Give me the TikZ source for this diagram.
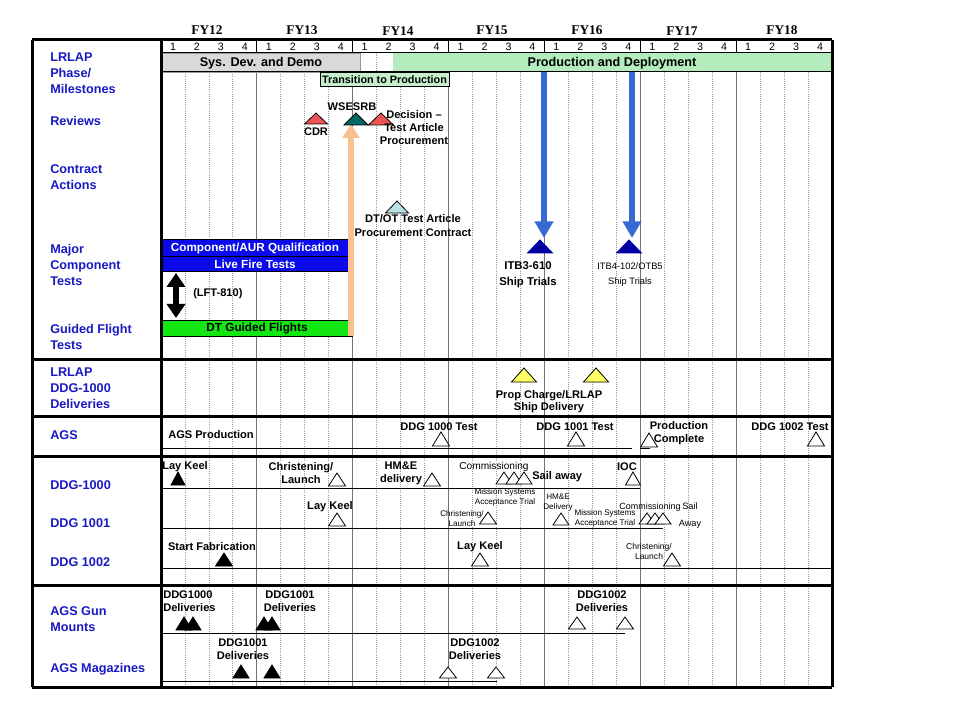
\documentclass[tikz,border=0pt]{standalone}
\usepackage{fontspec}
\setmainfont{Liberation Sans}
\newfontfamily\serifbf{Liberation Serif}
\usetikzlibrary{arrows.meta}
\definecolor{labelblue}{RGB}{25,25,195}
\definecolor{barblue}{RGB}{10,10,235}
\definecolor{navytri}{RGB}{0,0,160}
\definecolor{arrowblue}{RGB}{55,105,210}
\definecolor{peach}{RGB}{250,192,144}
\definecolor{dtgreen}{RGB}{20,230,20}
\definecolor{prodgreen}{RGB}{180,236,190}
\definecolor{transgreen}{RGB}{198,240,205}
\definecolor{sysgray}{RGB}{217,217,217}
\definecolor{revred}{RGB}{240,85,85}
\definecolor{tealtri}{RGB}{0,105,100}
\definecolor{dtotblue}{RGB}{185,225,228}
\definecolor{triyellow}{RGB}{255,255,100}
\newcommand\Tri[5][]{\draw[tri,#1] ({#2-#4/2},#3) -- ({#2+#4/2},#3) -- (#2,{#3-#5}) -- cycle;}
\begin{document}
\begin{tikzpicture}[x=0.75pt,y=-0.75pt,
  lab/.style={anchor=west,align=left,inner sep=0,text=labelblue,font=\fontsize{9.5}{12}\selectfont\bfseries},
  ann/.style={inner sep=0,align=center,font=\fontsize{8.3}{10}\selectfont\bfseries},
  reg/.style={inner sep=0,align=center,font=\fontsize{7.6}{9}\selectfont},
  tiny/.style={inner sep=0,align=center,font=\fontsize{6.1}{7}\selectfont},
  bartext/.style={inner sep=0,font=\fontsize{8.8}{10}\selectfont\bfseries},
  fy/.style={inner sep=0,font=\serifbf\fontsize{10}{12}\selectfont\bfseries},
  qnum/.style={inner sep=0,font=\fontsize{8}{9}\selectfont},
  tri/.style={draw=black,fill=white,line width=0.6pt},
  thinl/.style={line width=0.75pt},
  bord/.style={line width=2.25pt},
  qline/.style={draw=black!40,densely dotted,line width=0.6pt},
  yline/.style={draw=black!55,line width=0.8pt},
  bigarrow/.style={arrowblue,line width=4.5pt,-{Triangle[width=13.5pt,length=12.5pt]}},
  peacharrow/.style={peach,line width=4.5pt,-{Triangle[width=12.5pt,length=10.5pt]}}
]
\useasboundingbox (0,0) rectangle (960,720);
\fill[white] (0,0) rectangle (960,720);

% grid
\foreach \i in {1,...,27}{\draw[qline] ({161+23.964*\i},53) -- ({161+23.964*\i},687);}
\foreach \i in {1,...,6}{\draw[yline] ({161+95.857*\i},53) -- ({161+95.857*\i},687);
  \draw[thinl] ({161+95.857*\i},40) -- ({161+95.857*\i},53);}

% header
\node[fy] (fy12) at (207,30) {FY12};
\node[fy] (fy13) at (302,30) {FY13};
\node[fy] (fy14) at (398,31) {FY14};
\node[fy] (fy15) at (492,30) {FY15};
\node[fy] (fy16) at (587,30) {FY16};
\node[fy] (fy17) at (682,31) {FY17};
\node[fy] (fy18) at (782,30) {FY18};
\foreach \y in {0,...,6}{\foreach \q in {1,...,4}{
  \node[qnum] (q\y\q) at ({161+23.964*(4*\y+\q-0.5)},47) {\q};}}

% phase row
\draw[fill=sysgray,draw=black!40] (161,53) rectangle (360,72);
\fill[prodgreen] (393,53) rectangle (832,72);
\node[inner sep=0,font=\fontsize{9.5}{11}\selectfont\bfseries] (sdd) at (261,63) {Sys. Dev. and Demo};
\node[inner sep=0,font=\fontsize{9.5}{11}\selectfont\bfseries] (pdd) at (612,63) {Production and Deployment};
\draw[thinl,fill=transgreen] (320,73) rectangle (449,87);
\node[ann,font=\fontsize{8.1}{10}\selectfont\bfseries] (ttp) at (384.5,80) {Transition to Production};

% bars
\draw[thinl,fill=barblue] (161,240) rectangle (349,257);
\draw[thinl,fill=barblue] (161,257) rectangle (349,272);
\node[bartext,text=white] (aur) at (255,248.5) {Component/AUR Qualification};
\node[bartext,text=white] (lft) at (255,264.5) {Live Fire Tests};
\draw[thinl,fill=dtgreen] (161,320) rectangle (349,336);
\node[bartext] (dtg) at (257,328) {DT Guided Flights};

% arrows
\coordinate (pa0) at (351,336);
\coordinate (pa1) at (351,124);
\draw[peacharrow] (pa0) -- (pa1);
\coordinate (ba0) at (544,72);
\coordinate (ba1) at (544,238);
\coordinate (bb0) at (632,72);
\coordinate (bb1) at (632,238);
\draw[bigarrow] (ba0) -- (ba1);
\draw[bigarrow] (bb0) -- (bb1);
\coordinate (lf0) at (176,273);
\coordinate (lf1) at (176,318);
\draw[black,line width=4pt,{Triangle[width=13.5pt,length=10.5pt]}-{Triangle[width=13.5pt,length=10.5pt]}] (lf0) -- (lf1);

% thin lines
\draw[thinl] (161,53) -- (832,53);
\draw[thinl] (161,72) -- (832,72);
\draw[thinl] (161,336) -- (353,336);
\draw[thinl] (161,448) -- (632,448);
\draw[thinl] (640,448) -- (650,448);
\draw[thinl] (161,488) -- (640,488);
\draw[thinl] (161,528) -- (663,528);
\draw[thinl] (161,568) -- (832,568);
\draw[thinl] (161,633) -- (625,633);
\draw[thinl] (161,681) -- (497,681);

% borders
\draw[bord] (32,40) -- (832,40);
\draw[bord] (32,359) -- (832,359);
\draw[bord] (32,416) -- (832,416);
\draw[bord] (32,456) -- (832,456);
\draw[bord] (32,585) -- (832,585);
\draw[bord] (32,687) -- (832,687);
\draw[bord] (32,40) -- (32,687);
\draw[bord] (161,40) -- (161,687);
\draw[bord] (832,40) -- (832,687);

% left labels
\node[lab] (l1) at (50,73) {LRLAP\\Phase/\\Milestones};
\node[lab] (l2) at (50,121) {Reviews};
\node[lab] (l3) at (50,177) {Contract\\Actions};
\node[lab] (l4) at (50,265) {Major\\Component\\Tests};
\node[lab] (l5) at (50,337) {Guided Flight\\Tests};
\node[lab] (l6) at (50,388) {LRLAP\\DDG-1000\\Deliveries};
\node[lab] (l7) at (50,435) {AGS};
\node[lab] (l8) at (50,485) {DDG-1000};
\node[lab] (l9) at (50,523) {DDG 1001};
\node[lab] (l10) at (50,562) {DDG 1002};
\node[lab] (l11) at (50,619.5) {AGS Gun\\Mounts};
\node[lab] (l12) at (50,669) {AGS Magazines};

% reviews / contract
\Tri[fill=revred]{316}{124}{23}{11}
\Tri[fill=tealtri]{356}{125}{24}{12}
\Tri[fill=revred]{381}{125}{25}{12}
\node[ann] (cdr) at (316,132) {CDR};
\node[ann] (wse) at (352,107) {WSESRB};
\node[ann] (dec) at (414,127.5) {Decision --\\Test Article\\Procurement};
\Tri[fill=dtotblue]{397}{213}{23}{12}
\node[ann] (dtot) at (413,225.5) {DT/OT Test Article\\Procurement Contract};
\node[ann,anchor=west] (lftl) at (193,294) {(LFT-810)};

% ship trials
\Tri[fill=navytri,draw=navytri]{540}{253}{25}{13}
\Tri[fill=navytri,draw=navytri]{629}{253}{25}{13}
\node[ann,font=\fontsize{8.5}{12}\selectfont\bfseries] (itb3) at (528,275) {ITB3-610\\Ship Trials};
\node[reg,font=\fontsize{7}{11.3}\selectfont] (itb4) at (630,274.5) {ITB4-102/OTB5\\Ship Trials};

% LRLAP deliveries
\Tri[fill=triyellow]{524}{382}{25}{14}
\Tri[fill=triyellow]{596}{382}{25}{14}
\node[ann,font=\fontsize{8.3}{8.6}\selectfont\bfseries] (prop) at (549,401.5) {Prop Charge/LRLAP\\Ship Delivery};

% AGS row
\node[ann,anchor=west] (agsp) at (168,435) {AGS Production};
\node[ann] (t1000) at (439,427) {DDG 1000 Test};
\Tri{441}{446}{17}{14}
\node[ann] (t1001) at (575,427) {DDG 1001 Test};
\Tri{576}{446}{17}{14}
\node[ann,font=\fontsize{8.3}{9.75}\selectfont\bfseries] (pcomp) at (679,433.5) {Production\\Complete};
\Tri{649}{447}{17}{14}
\node[ann] (t1002) at (790,427) {DDG 1002 Test};
\Tri{816}{446}{17}{14}

% DDG-1000 row
\node[ann,anchor=west] (lk1) at (162,467) {Lay Keel};
\Tri[fill=black]{178}{485}{14}{13}
\node[ann,font=\fontsize{8.3}{9.75}\selectfont\bfseries] (chr1) at (301,473.5) {Christening/\\Launch};
\Tri{337}{486}{17}{13}
\node[ann,font=\fontsize{8.3}{9.75}\selectfont\bfseries] (hme1) at (401,473.5) {HM\&E\\delivery};
\Tri{432}{486}{17}{13}
\node[reg] (com1) at (494,467) {Commissioning};
\Tri{504}{484}{16}{12}
\Tri{514}{484}{16}{12}
\Tri{524}{484}{16}{12}
\node[ann,anchor=west] (sail1) at (532,477) {Sail away};
\node[ann] (ioc) at (627,467) {IOC};
\Tri{633}{485}{15}{13}

% DDG 1001 row
\node[ann] (lk2) at (330,507) {Lay Keel};
\Tri{337}{526}{17}{13}
\node[tiny] (chr2) at (462,518.5) {Christening/\\Launch};
\Tri{488}{524}{17}{12}
\node[tiny] (mst1) at (505,497.5) {Mission Systems\\Acceptance Trial};
\node[tiny] (hme2) at (558,502.5) {HM\&E\\Delivery};
\Tri{561}{525}{16}{12}
\node[tiny] (mst2) at (605,518.5) {Mission Systems\\Acceptance Trial};
\node[reg,font=\fontsize{6.7}{8}\selectfont] (com2) at (650,507.5) {Commissioning};
\Tri{647}{524}{16}{11}
\Tri{655}{524}{16}{11}
\Tri{663}{524}{16}{11}
\node[reg,font=\fontsize{6.9}{12.5}\selectfont] (sail2) at (690,515.5) {Sail\\Away};

% DDG 1002 row
\node[ann] (sf) at (212,547) {Start Fabrication};
\Tri[fill=black]{224}{566}{17}{13}
\node[ann] (lk3) at (480,547) {Lay Keel};
\Tri{480}{566}{17}{13}
\node[tiny,font=\fontsize{6.4}{7.5}\selectfont] (chr3) at (649,551) {Christening/\\Launch};
\Tri{672}{566}{17}{13}

% AGS gun mounts
\node[ann,align=left,anchor=west,font=\fontsize{8.3}{9.75}\selectfont\bfseries] (gm1) at (163,601.5) {DDG1000\\Deliveries};
\Tri[fill=black]{184}{630}{16}{13}
\Tri[fill=black]{193}{630}{16}{13}
\node[ann,font=\fontsize{8.3}{9.75}\selectfont\bfseries] (gm2) at (290,601.5) {DDG1001\\Deliveries};
\Tri[fill=black]{264}{630}{16}{13}
\Tri[fill=black]{272}{630}{16}{13}
\node[ann,font=\fontsize{8.3}{9.75}\selectfont\bfseries] (gm3) at (602,601.5) {DDG1002\\Deliveries};
\Tri{577}{629}{17}{12}
\Tri{625}{629}{17}{12}

% AGS magazines
\node[ann,font=\fontsize{8.3}{9.75}\selectfont\bfseries] (mg1) at (243,649.5) {DDG1001\\Deliveries};
\Tri[fill=black]{241}{678}{16}{13}
\Tri[fill=black]{272}{678}{16}{13}
\node[ann,font=\fontsize{8.3}{9.75}\selectfont\bfseries] (mg2) at (475,649.5) {DDG1002\\Deliveries};
\Tri{448}{678}{17}{11}
\Tri{496}{678}{17}{11}
\end{tikzpicture}
\end{document}
